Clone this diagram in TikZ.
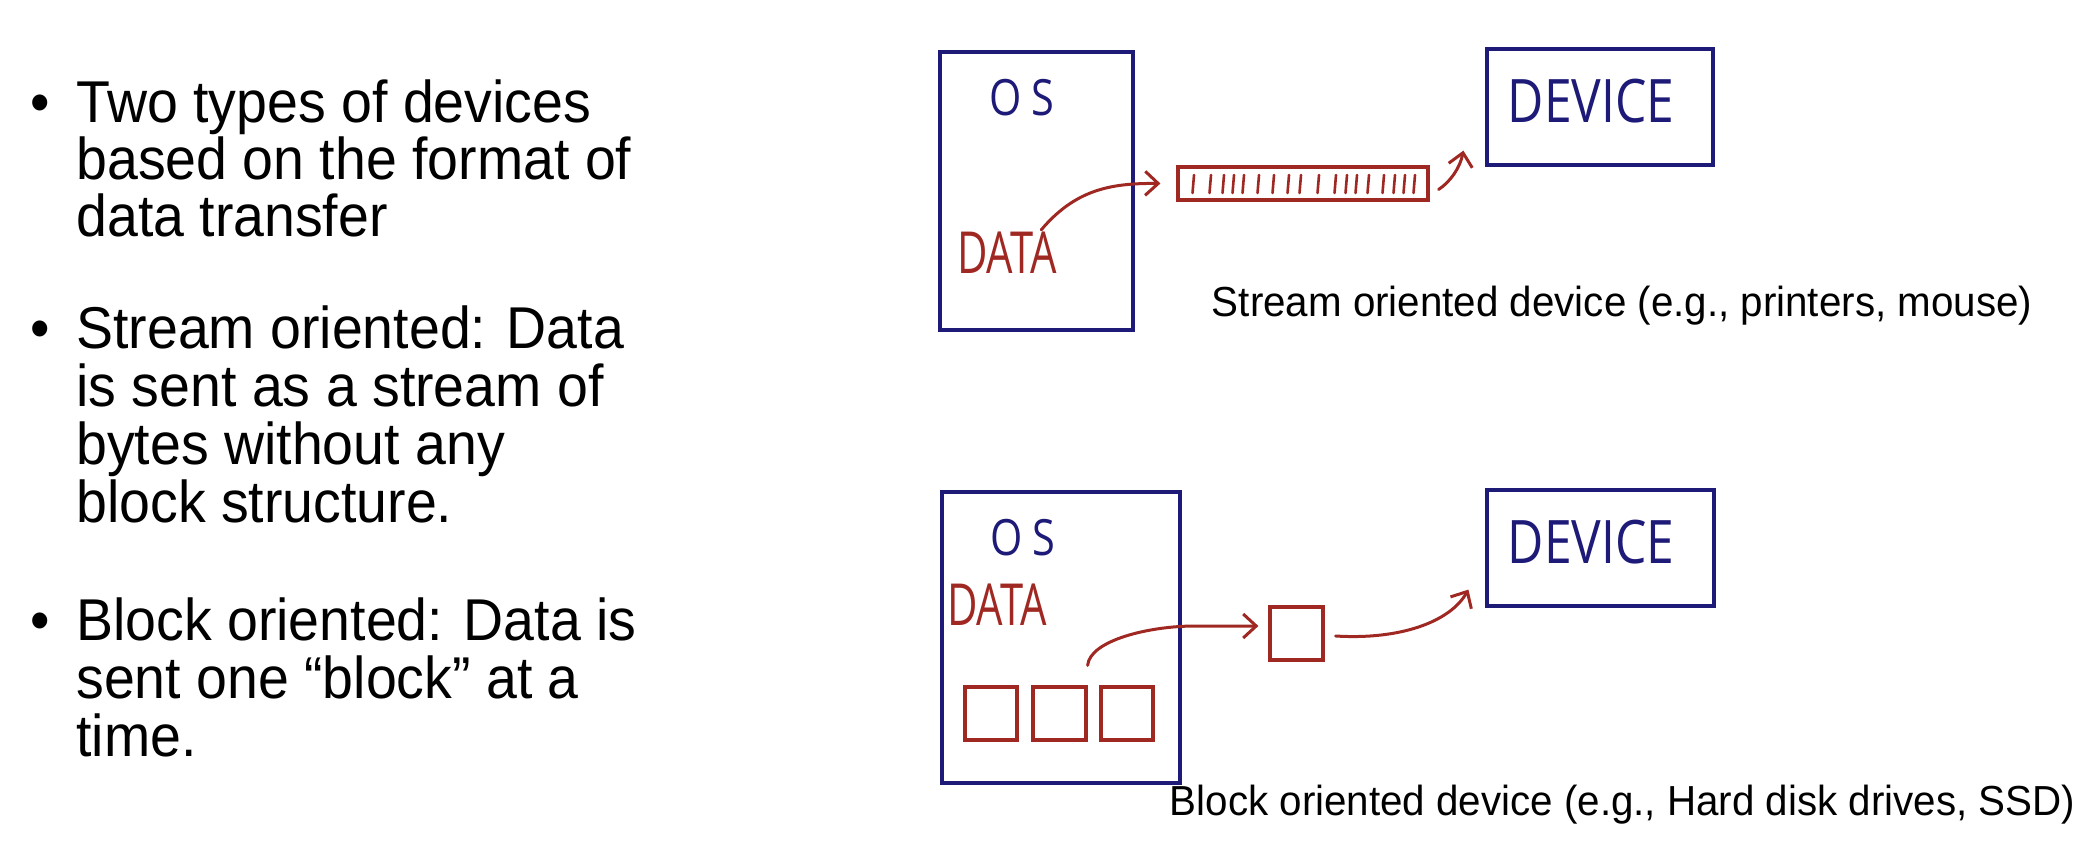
\documentclass[tikz,border=0pt]{standalone}
\usepackage{fontspec}
\usepackage{graphicx}
\setmainfont{Liberation Sans}
\newfontfamily\bodyfont{Liberation Sans}[FakeStretch=0.94]
\newfontfamily\capfont{Liberation Sans}[FakeStretch=0.96]
\newfontfamily\handfont{Open Sans}[FakeStretch=0.83]
\newfontfamily\handdata{Open Sans}[FakeStretch=0.72]
\usetikzlibrary{arrows.meta,calc}
\definecolor{handblue}{RGB}{30,26,120}
\definecolor{handred}{RGB}{160,40,34}
\tikzset{
  bluebox/.style={draw=handblue,line width=1.6pt,inner sep=0pt},
  redbox/.style={draw=handred,line width=1.6pt,inner sep=0pt},
  redpen/.style={draw=handred,line width=1.5pt,line cap=round,line join=round},
  redarrow/.style={redpen,-{Straight Barb[length=6.5pt,width=12pt,line width=1.5pt]}},
  bodytext/.style={font=\bodyfont\fontsize{29.5}{28.75}\selectfont,anchor=base west,inner sep=0pt},
  captext/.style={font=\capfont\fontsize{21}{24}\selectfont,anchor=base,inner sep=0pt},
  oslabel/.style={text=handblue,font=\handfont\fontsize{25}{25}\selectfont,inner sep=0pt},
  devlabel/.style={text=handblue,font=\handfont\fontsize{30}{30}\selectfont,inner sep=0pt},
  datalabel/.style={text=handred,font=\handdata\fontsize{29}{29}\selectfont,inner sep=0pt}
}
\begin{document}
\begin{tikzpicture}[x=0.5pt,y=-0.5pt]
\fill[white] (0,0) rectangle (2094,844);
\useasboundingbox (0,0) rectangle (2094,844);

% ---- left bullet text
\node[bodytext] (b1) at (30,123) {•};
\node[bodytext] (t1a) at (76,123) {Two types of devices};
\node[bodytext] (t1b) at (76,180) {based on the format of};
\node[bodytext] (t1c) at (76,237) {data transfer};
\node[bodytext] (b2) at (30,349) {•};
\node[bodytext] (t2a) at (76,349) {Stream oriented: Data};
\node[bodytext] (t2b) at (76,407) {is sent as a stream of};
\node[bodytext] (t2c) at (76,465) {bytes without any};
\node[bodytext] (t2d) at (76,523) {block structure.};
\node[bodytext] (b3) at (30,640) {•};
\node[bodytext] (t3a) at (76,640) {Block oriented: Data is};
\node[bodytext] (t3b) at (76,698) {sent one “block” at a};
\node[bodytext] (t3c) at (76,756) {time.};

% ---- stream oriented
\node[bluebox,minimum width=96.5pt,minimum height=139pt] (os1) at (1036.5,191) {};
\node[oslabel] (os1l) at (1022,98) {O\hspace{5pt}S};
\node[datalabel] (data1) at (1007,253) {DATA};
\node[bluebox,minimum width=113pt,minimum height=58pt] (dev1) at (1600,107) {};
\node[devlabel] (dev1l) at (1591,101) {DEVICE};
\node[redbox,minimum width=125pt,minimum height=16.5pt] (stream) at (1303,183.5) {};
\foreach \tx in {1193,1210,1223,1233,1243,1258,1273,1288,1300,1318,1335,1346,1356,1368,1383,1394,1404,1414}
  \draw[redpen,line width=1.3pt] (\tx+1,175) -- (\tx-0.5,193);
\coordinate (a1s) at ($(data1.north east)+(-16,-2)$);
\draw[redarrow] (a1s) .. controls (1075,190) and (1110,183) .. ($(stream.west)+(-16,0)$);
\draw[redarrow] ($(stream.east)+(9,6)$) .. controls (1450,182) and (1460,168) .. ($(dev1.south west)+(-22,-16)$);
\node[captext] (cap1) at (1622,317) {Stream oriented device (e.g., printers, mouse)};

% ---- block oriented
\node[bluebox,minimum width=119pt,minimum height=145.5pt] (os2) at (1061,637.5) {};
\node[oslabel] (os2l) at (1023,538) {O\hspace{5pt}S};
\node[datalabel] (data2) at (997,605) {DATA};
\node[redbox,minimum width=26pt,minimum height=26.5pt] (s1) at (991,713.5) {};
\node[redbox,minimum width=26.5pt,minimum height=26.5pt] (s2) at (1059.5,713.5) {};
\node[redbox,minimum width=26pt,minimum height=26.5pt] (s3) at (1127,713.5) {};
\node[bluebox,minimum width=113.5pt,minimum height=58pt] (dev2) at (1600.5,548) {};
\node[devlabel] (dev2l) at (1591,542) {DEVICE};
\node[redbox,minimum width=26.5pt,minimum height=26.5pt] (blk) at (1296.5,633.5) {};
\draw[redarrow] ($(s2.north east)+(0,-20)$) .. controls (1090,640) and (1150,626) .. (1195,626) -- ($(blk.west)+(-10,-7.5)$);
\draw[redarrow] ($(blk.east)+(11,2.5)$) .. controls (1400,640) and (1450,622) .. ($(dev2.south west)+(-17,-18)$);
\node[captext] (cap2) at (1622.5,815) {Block oriented device (e.g., Hard disk drives, SSD)};
\end{tikzpicture}
\end{document}
